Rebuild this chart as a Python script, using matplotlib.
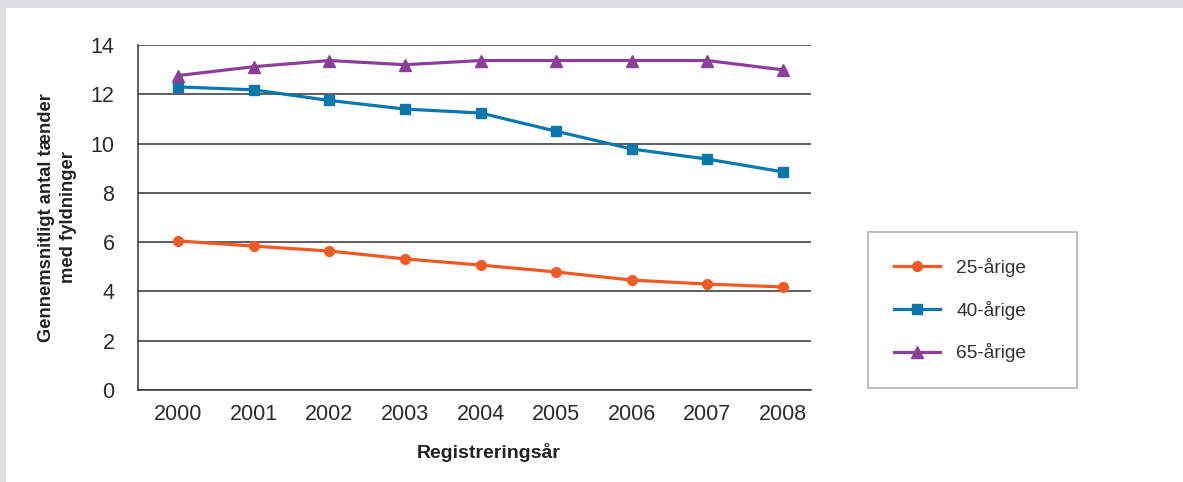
import matplotlib.pyplot as plt
from matplotlib.patches import Rectangle

plt.rcParams["font.family"] = ["Liberation Sans", "DejaVu Sans"]

YEARS = ["2000", "2001", "2002", "2003", "2004", "2005", "2006", "2007", "2008"]
AGE_25 = [6.05, 5.84, 5.64, 5.32, 5.07, 4.79, 4.46, 4.30, 4.18]
AGE_40 = [12.3, 12.18, 11.75, 11.4, 11.24, 10.5, 9.78, 9.37, 8.85]
AGE_65 = [12.76, 13.12, 13.37, 13.2, 13.37, 13.37, 13.37, 13.37, 12.99]

SERIES = [
    ("25-årige", AGE_25, "#F15A24", "o", 7),
    ("40-årige", AGE_40, "#0B78AC", "s", 7.5),
    ("65-årige", AGE_65, "#8C3F98", "^", 9),
]

fig = plt.figure(figsize=(11.83, 4.82), dpi=100, facecolor="#DCDDDF")
# white panel inside the grey frame
fig.add_artist(Rectangle((6 / 1183, 0), 1 - 6 / 1183, 1 - 8 / 482,
                         transform=fig.transFigure, facecolor="white", edgecolor="none", zorder=0))

ax = fig.add_axes([138 / 1183, 92 / 482, 673 / 1183, 345 / 482])
ax.set_facecolor("white")

x = list(range(len(YEARS)))
for label, values, color, marker, ms in SERIES:
    ax.plot(x, values, color=color, linewidth=2.3, marker=marker, markersize=ms,
            label=label, zorder=3)

ax.set_xlim(-0.53, 8.37)
ax.set_ylim(0, 14)
ax.set_yticks(range(0, 15, 2))
ax.set_xticks(x)
ax.set_xticklabels(YEARS)
ax.tick_params(axis="both", length=0, labelsize=15.5, labelcolor="#2b2b2b")
ax.tick_params(axis="x", pad=10)
ax.tick_params(axis="y", pad=17)
ax.grid(axis="y", color="#333333", linewidth=1.1)
ax.set_axisbelow(True)
for side in ("top", "right"):
    ax.spines[side].set_visible(False)
for side in ("left", "bottom"):
    ax.spines[side].set_color("#333333")
    ax.spines[side].set_linewidth(1.1)

ax.set_xlabel("Registreringsår", fontsize=14, fontweight="bold", color="#222222")
ax.xaxis.set_label_coords((489 - 138) / 673, -0.155)
ax.set_ylabel("Gennemsnitligt antal tænder\nmed fyldninger", fontsize=13.2,
              fontweight="bold", color="#222222", linespacing=1.4)
ax.yaxis.set_label_coords((77 - 138) / 673, 0.5)

leg = fig.legend(loc="upper left", bbox_to_anchor=(868 / 1183, 1 - 232 / 482, 209 / 1183, 0.0),
                 mode="expand", fontsize=13.8, frameon=True, fancybox=False,
                 borderpad=1.35, labelspacing=1.24, handlelength=2.4, handletextpad=0.85,
                 borderaxespad=0)
leg.get_frame().set_edgecolor("#A0A0A0")
leg.get_frame().set_linewidth(1.2)
for text in leg.get_texts():
    text.set_color("#333333")

fig.savefig("out.png", dpi=100, facecolor=fig.get_facecolor())
